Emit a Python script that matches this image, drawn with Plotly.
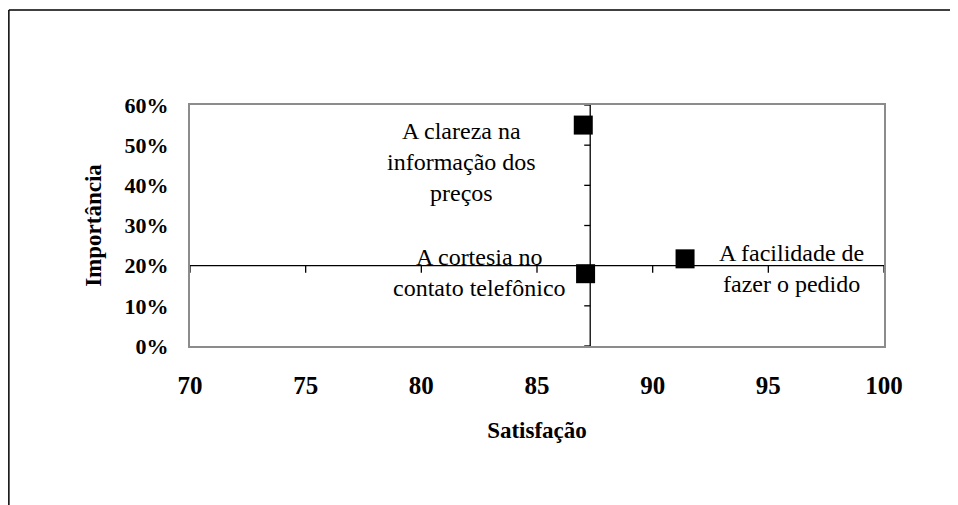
import plotly.graph_objects as go

# atributos avaliados: satisfação (x) e importância (y)
atributos = ["A clareza na<br>informação dos<br>preços",
             "A cortesia no<br>contato telefônico",
             "A facilidade de<br>fazer o pedido"]
satisfacao = [87.0, 87.1, 91.4]
importancia = [0.55, 0.18, 0.217]

# cruzamento dos eixos (quadrantes)
cruz_x = 87.3
cruz_y = 0.20

x_ticks = [70, 75, 80, 85, 90, 95, 100]
y_ticks = [0, 0.1, 0.2, 0.3, 0.4, 0.5, 0.6]
y_labels = ["0%", "10%", "20%", "30%", "40%", "50%", "60%"]

serif = "Liberation Serif, Times New Roman, serif"

fig = go.Figure()
fig.add_trace(go.Scatter(
    x=satisfacao, y=importancia, mode="markers",
    marker=dict(symbol="square", size=19, color="black"),
    hoverinfo="skip", showlegend=False,
))

shapes = []
# linha horizontal (eixo x cruzando em 20%)
shapes.append(dict(type="line", xref="x", yref="y", x0=x_ticks[0], x1=x_ticks[-1],
                   y0=cruz_y, y1=cruz_y, line=dict(color="black", width=1.3)))
for v in x_ticks:
    shapes.append(dict(type="line", xref="x", yref="y", x0=v, x1=v,
                       ysizemode="pixel", yanchor=cruz_y, y0=0, y1=-7,
                       line=dict(color="black", width=1.3)))
# linha vertical (eixo y cruzando em 87,3)
shapes.append(dict(type="line", xref="x", yref="y", x0=cruz_x, x1=cruz_x,
                   y0=y_ticks[0], y1=y_ticks[-1], line=dict(color="black", width=1.3)))
for v in y_ticks:
    shapes.append(dict(type="line", xref="x", yref="y", y0=v, y1=v,
                       xsizemode="pixel", xanchor=cruz_x, x0=0, x1=-6,
                       line=dict(color="black", width=1.3)))
# moldura externa do gráfico
shapes.append(dict(type="line", xref="paper", yref="paper", x0=-0.261, x1=1.2,
                   y0=1.394, y1=1.394, line=dict(color="black", width=1.5)))
shapes.append(dict(type="line", xref="paper", yref="paper", x0=-0.261, x1=-0.261,
                   y0=1.394, y1=-0.7, line=dict(color="black", width=1.5)))

lbl_font = dict(family=serif, size=24, color="black")
annotations = [
    dict(x=satisfacao[0], y=importancia[0], text=atributos[0], showarrow=False,
         xanchor="center", yanchor="middle", xshift=-122, yshift=-37, align="center", font=lbl_font),
    dict(x=satisfacao[1], y=importancia[1], text=atributos[1], showarrow=False,
         xanchor="center", yanchor="middle", xshift=-106, yshift=1, align="center", font=lbl_font),
    dict(x=satisfacao[2], y=importancia[2], text=atributos[2], showarrow=False,
         xanchor="center", yanchor="middle", xshift=106, yshift=-10, align="center", font=lbl_font),
]

# a página tem 8px de margem no body
fig.update_layout(
    width=950, height=497,
    margin=dict(l=182, r=74, t=97, b=159),
    paper_bgcolor="white", plot_bgcolor="white",
    shapes=shapes, annotations=annotations,
    font=dict(family=serif, color="black"),
    xaxis=dict(range=[70, 100], tickvals=x_ticks, showgrid=False, zeroline=False,
               showline=True, mirror=True, linecolor="#8c8c8c", linewidth=2,
               ticks="", ticklabelstandoff=16,
               tickfont=dict(family=serif, size=25, color="black", weight="bold"),
               title=dict(text="<b>Satisfação</b>", standoff=24,
                          font=dict(family=serif, size=23, color="black"))),
    yaxis=dict(range=[0, 0.6], tickvals=y_ticks, ticktext=y_labels, showgrid=False,
               zeroline=False, showline=True, mirror=True, linecolor="#8c8c8c",
               linewidth=2, ticks="", ticklabelstandoff=15,
               tickfont=dict(family=serif, size=22, color="black", weight="bold"),
               title=dict(text="<b>Importância</b>", standoff=17,
                          font=dict(family=serif, size=23, color="black"))),
)

fig.write_html("out.html")
